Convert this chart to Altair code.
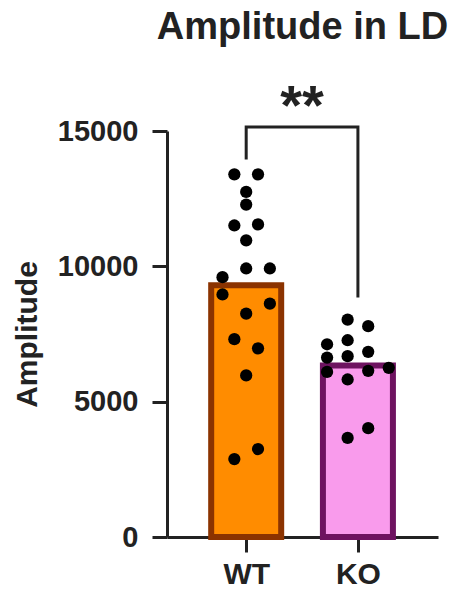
import altair as alt
import pandas as pd

# Groups and per-animal amplitude values
groups = ["WT", "KO"]
wt_values = [13400, 13400, 12750, 12280, 11510, 11550, 10960, 9920, 9920,
             9600, 8960, 8620, 8250, 7310, 6970, 5970, 3250, 2880]
ko_values = [8030, 7790, 7120, 7270, 6840, 6630, 6680, 6100, 6140,
             6250, 5820, 4020, 3660]

# Scatter column (slot) of each dot within its group
wt_slots = [-1, 1, 0, 0, -1, 1, 0, 0, 2, -2, -2, 2, 0, -1, 1, 0, 1, -1]
ko_slots = [-0.5, 0.5, -1.5, -0.5, 0.5, -1.5, -0.5, -1.5, 0.5, 1.5, -0.5, 0.5, -0.5]

# Significance bracket: top height and the bottom of each leg
bracket_top = 15150
bracket_left_end = 14000
bracket_right_end = 8900
significance = "**"

fills = ["#FF8C00", "#F99BEC"]
strokes = ["#8B3300", "#6E1360"]
ink = "#222222"
font = "Liberation Sans"

slot_spacing = {"WT": 0.106, "KO": 0.184}
position = {g: i + 1 for i, g in enumerate(groups)}

rows = []
for g, vals, slots in (("WT", wt_values, wt_slots), ("KO", ko_values, ko_slots)):
    for v, s in zip(vals, slots):
        rows.append({"group": g, "value": v, "pos": position[g],
                     "xp": position[g] + s * slot_spacing[g]})
df = pd.DataFrame(rows)

bracket = pd.DataFrame({
    "x": [1, 1, 2, 2],
    "y": [bracket_left_end, bracket_top, bracket_top, bracket_right_end],
    "order": [0, 1, 2, 3],
})
star = pd.DataFrame({"x": [1.5], "y": [bracket_top], "label": [significance]})

x_scale = alt.Scale(domain=[0.336, 2.672], nice=False, zero=False)
y_scale = alt.Scale(domain=[0, 15000], nice=False)

x_axis = alt.Axis(values=[1, 2], labelExpr="datum.value == 1 ? 'WT' : 'KO'",
                  title=None, grid=False, tickSize=15, tickWidth=3, tickColor=ink,
                  domainWidth=3, domainColor=ink, labelFontSize=30,
                  labelFontWeight="bold", labelFont=font, labelColor=ink,
                  labelPadding=7)
y_axis = alt.Axis(values=[0, 5000, 10000, 15000], format="d", title="Amplitude",
                  grid=False, tickSize=15, tickWidth=3, tickColor=ink, domainWidth=3,
                  domainColor=ink, labelFontSize=29, labelFontWeight="bold",
                  labelFont=font, labelColor=ink, labelPadding=14,
                  titleFontSize=30, titleFont=font, titleFontWeight="bold",
                  titleColor=ink, titlePadding=15)

color_scale = alt.Scale(domain=groups, range=fills)
stroke_scale = alt.Scale(domain=groups, range=strokes)

bars = alt.Chart(df).mark_bar(orient="vertical", size=70, strokeWidth=6).encode(
    x=alt.X("pos:Q", scale=x_scale, axis=x_axis),
    y=alt.Y("mean(value):Q", scale=y_scale, axis=y_axis),
    color=alt.Color("group:N", scale=color_scale, legend=None),
    stroke=alt.Stroke("group:N", scale=stroke_scale, legend=None),
)

dots = alt.Chart(df).mark_point(filled=True, size=150, color="#000000", opacity=1).encode(
    x=alt.X("xp:Q", scale=x_scale),
    y=alt.Y("value:Q", scale=y_scale),
)

bracket_line = alt.Chart(bracket).mark_line(color=ink, strokeWidth=3, strokeCap="square").encode(
    x=alt.X("x:Q", scale=x_scale),
    y=alt.Y("y:Q", scale=y_scale),
    order="order:Q",
)

stars = alt.Chart(star).mark_text(fontSize=56, font=font, fontWeight="bold",
                                  color=ink, baseline="alphabetic", align="center",
                                  dy=-3).encode(
    x=alt.X("x:Q", scale=x_scale),
    y=alt.Y("y:Q", scale=y_scale),
    text="label:N",
)

chart = alt.layer(bars, dots, bracket_line, stars).properties(
    width=271,
    height=406,
    background="white",
    title=alt.TitleParams("Amplitude in LD", fontSize=38, font=font,
                          fontWeight="bold", color=ink, anchor="middle",
                          offset=32),
    autosize=alt.AutoSizeParams(type="none"),
    padding={"left": 167, "top": 131, "right": 12, "bottom": 55},
).configure_view(stroke="transparent", strokeWidth=0)

chart.save("out.html", embed_options={"renderer": "svg", "actions": False})
